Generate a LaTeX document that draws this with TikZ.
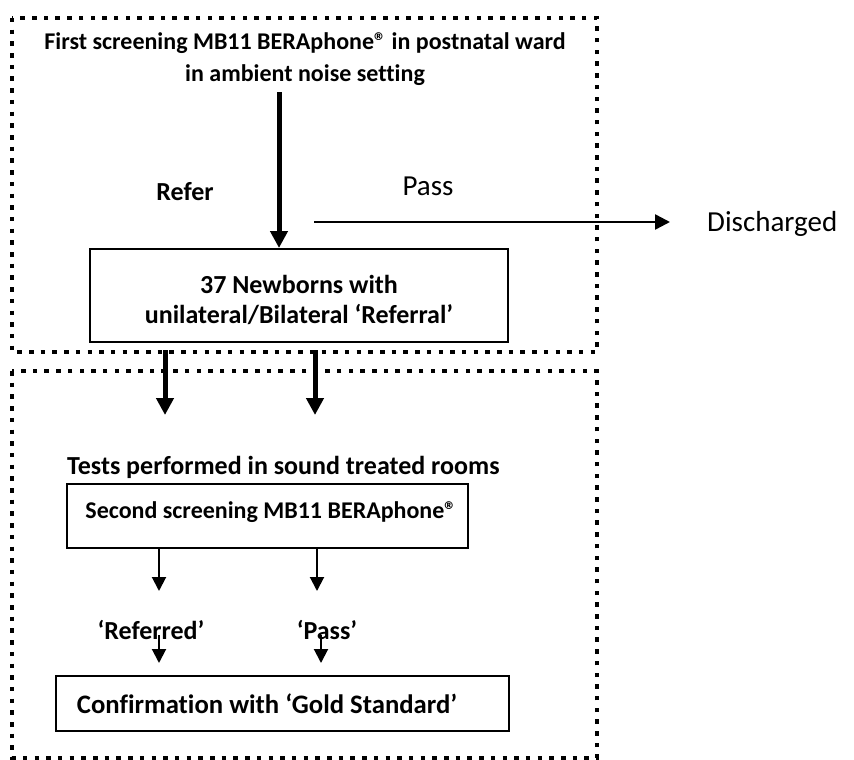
\documentclass[tikz,border=0pt]{standalone}
\usepackage{fontspec}
\setmainfont{Carlito}[Ligatures=NoCommon]
\usetikzlibrary{arrows.meta}
\begin{document}
\begin{tikzpicture}[x=1pt,y=-1pt,
  dotbox/.style={line width=4.5pt, dash pattern=on 4.5pt off 7.2pt},
  rectbox/.style={draw, line width=2pt, inner sep=0pt},
  bigtxt/.style={font=\fontsize{26}{31}\selectfont\bfseries, align=center, inner sep=0pt},
  regtxt/.style={font=\fontsize{29}{34}\selectfont, inner sep=0pt},
  fatarrow/.style={line width=5pt, -{Triangle[length=17pt,width=17pt]}},
  thinarrow/.style={line width=2pt, -{Triangle[length=14pt,width=14pt]}},
  midarrow/.style={line width=2.5pt, -{Triangle[length=15pt,width=15pt]}}]
\useasboundingbox (0,0) rectangle (854,760);
% dotted frames
\draw[dotbox] (12,18) rectangle (597,352);
\draw[dotbox] (12,371) rectangle (597,758);
% title
\node[bigtxt, font=\fontsize{24}{32}\selectfont\bfseries] (title) at (305,59) {First screening MB11 BERAphone® in postnatal ward\\in ambient noise setting};
\coordinate (ts) at (279,92);
% newborn box
\node[rectbox, minimum width=418pt, minimum height=93pt] (nb) at (299,295.5) {};
\node[bigtxt, font=\fontsize{26}{30}\selectfont\bfseries] (nbt) at (299,300) {37 Newborns with\\unilateral/Bilateral ‘Referral’};
\draw[fatarrow] (ts) -- (ts |- nb.north);
\node[bigtxt] (refer) at (185,192) {Refer};
\node[regtxt] (pass) at (428,186) {Pass};
\coordinate (ps) at (314,222);
\node[regtxt, anchor=west] (dis) at (707,224) {Discharged};
\coordinate (pe) at (670,222);
\draw[midarrow] (ps) -- (pe);
% thick arrows between frames
\coordinate (a1s) at (165,350);
\coordinate (a1e) at (165,415);
\coordinate (a2s) at (315,350);
\coordinate (a2e) at (315,415);
\draw[fatarrow] (a1s) -- (a1e);
\draw[fatarrow] (a2s) -- (a2e);
% lower part
\node[bigtxt, anchor=west] (tests) at (67,467) {Tests performed in sound treated rooms};
\node[rectbox, minimum width=401pt, minimum height=64pt] (s2) at (267.5,516) {};
\node[bigtxt, font=\fontsize{24}{30}\selectfont\bfseries] (s2t) at (271,512) {Second screening MB11 BERAphone®};
\coordinate (b1e) at (159,591);
\coordinate (b2e) at (317,591);
\draw[thinarrow] (s2.south -| b1e) -- (b1e);
\draw[thinarrow] (s2.south -| b2e) -- (b2e);
\node[bigtxt] (ref2) at (151,630) {‘Referred’};
\node[bigtxt] (pass2) at (327,630) {‘Pass’};
\coordinate (c1s) at (159,635);
\coordinate (c2s) at (321,635);
\node[rectbox, minimum width=453pt, minimum height=55pt] (conf) at (282.5,703.5) {};
\node[bigtxt, font=\fontsize{26.7}{31}\selectfont\bfseries] (conft) at (267,704) {Confirmation with ‘Gold Standard’};
\draw[thinarrow] (c1s) -- (c1s |- 0,663);
\draw[thinarrow] (c2s) -- (c2s |- 0,663);
\end{tikzpicture}
\end{document}
